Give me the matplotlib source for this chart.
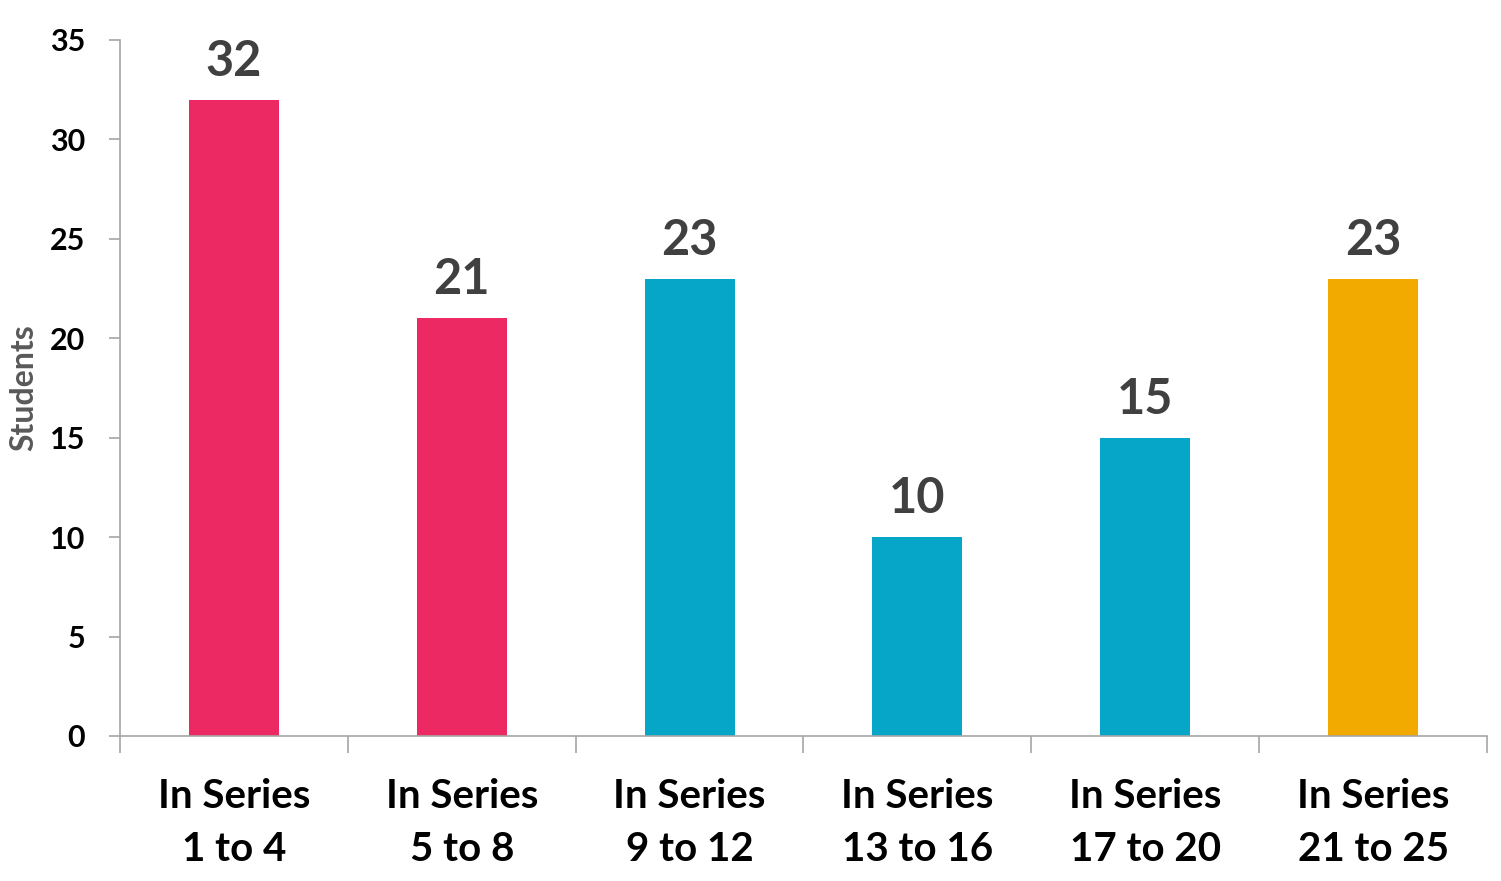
import matplotlib
matplotlib.use('Agg')
import matplotlib.pyplot as plt
import numpy as np

categories = ['In Series\n1 to 4', 'In Series\n5 to 8', 'In Series\n9 to 12',
              'In Series\n13 to 16', 'In Series\n17 to 20', 'In Series\n21 to 25']
students = [32, 21, 23, 10, 15, 23]
colors = ['#EC2962', '#EC2962', '#05A6C8', '#05A6C8', '#05A6C8', '#F2A900']

plt.rcParams['font.family'] = ['Lato', 'DejaVu Sans']
plt.rcParams['font.weight'] = 'bold'

fig = plt.figure(figsize=(15.01, 8.81), dpi=100)
ax = fig.add_axes([0.0799, 0.1646, 0.9108, 0.79])

x = np.arange(len(categories))
ax.bar(x, students, width=0.395, color=colors)
for xi, v in zip(x, students):
    ax.text(xi, v + 0.8, str(v), ha='center', va='bottom', fontsize=35,
            fontweight='bold', color='#404040')

ax.set_xlim(-0.5, len(categories) - 0.5)
ax.set_ylim(0, 35)
ax.set_yticks(range(0, 36, 5))
ax.set_xticks(x)
ax.set_xticklabels(categories, fontsize=29, fontweight='bold', linespacing=1.55)
ax.set_xticks(np.arange(-0.5, len(categories), 1), minor=True)
ax.tick_params(axis='x', which='major', length=0, pad=30)
ax.tick_params(axis='x', which='minor', length=12, color='#A6A6A6', width=1.2)
ax.tick_params(axis='y', length=8, color='#A6A6A6', width=1.2, labelsize=22, pad=17)
for lbl in ax.get_yticklabels():
    lbl.set_fontweight('bold')
ax.set_ylabel('Students', fontsize=23, color='#595959', fontweight='bold', labelpad=8)

for s in ['top', 'right']:
    ax.spines[s].set_visible(False)
for s in ['left', 'bottom']:
    ax.spines[s].set_color('#A6A6A6')
    ax.spines[s].set_linewidth(1.2)

fig.savefig('out.png', dpi=100)
